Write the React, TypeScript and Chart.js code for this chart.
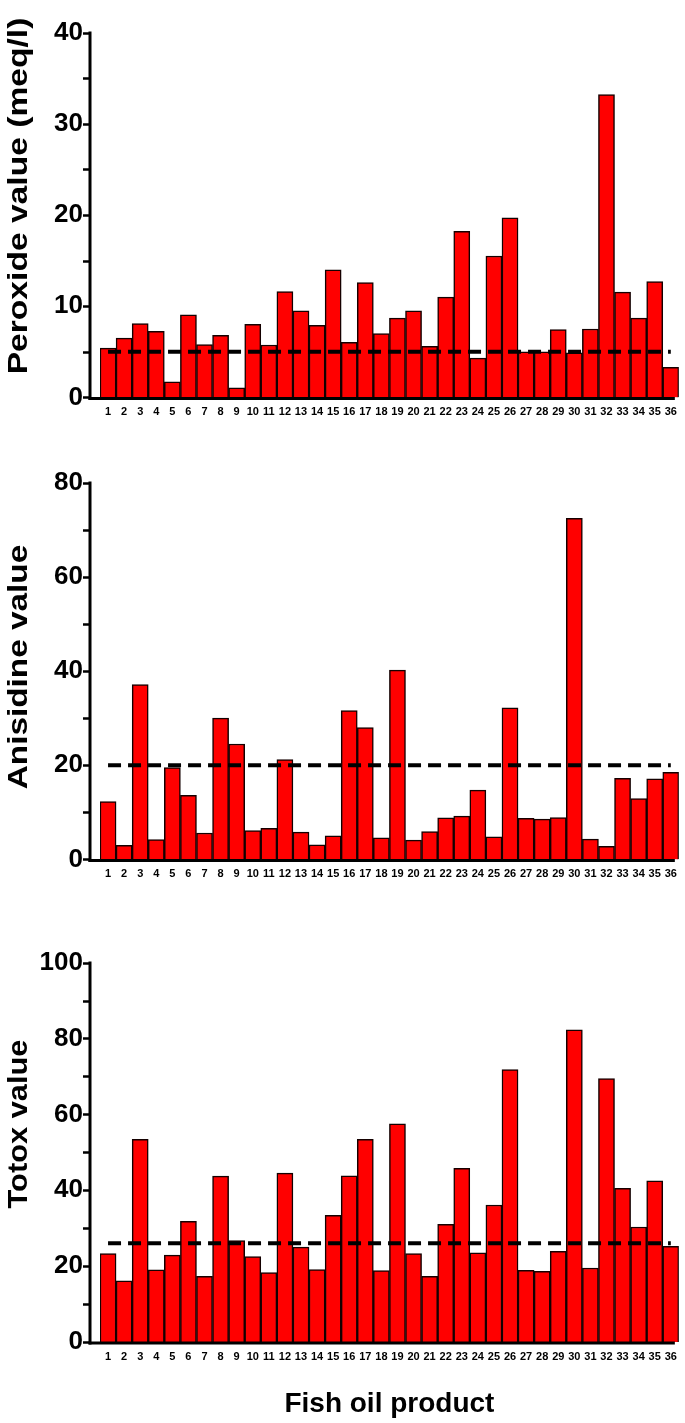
import React, { useEffect, useRef } from "react";
import { Chart, registerables } from "chart.js";

Chart.register(...registerables);

const products = [
  "1", "2", "3", "4", "5", "6", "7", "8", "9", "10", "11", "12",
  "13", "14", "15", "16", "17", "18", "19", "20", "21", "22", "23", "24",
  "25", "26", "27", "28", "29", "30", "31", "32", "33", "34", "35", "36",
];

const peroxideValues = [
  5.4, 6.5, 8.1, 7.25, 1.7, 9.05, 5.8, 6.8, 1.05, 8.0, 5.75, 11.6,
  9.5, 7.9, 14.0, 6.05, 12.6, 7.0, 8.7, 9.5, 5.6, 11.0, 18.2, 4.3,
  15.5, 19.7, 5.0, 5.0, 7.45, 4.9, 7.5, 33.2, 11.55, 8.7, 12.7, 3.3,
];

const anisidineValues = [
  12.3, 3.0, 37.1, 4.2, 19.5, 13.6, 5.6, 30.0, 24.5, 6.1, 6.6, 21.2,
  5.8, 3.1, 5.0, 31.6, 28.0, 4.6, 40.2, 4.1, 5.9, 8.8, 9.2, 14.7,
  4.8, 32.2, 8.7, 8.55, 8.9, 72.4, 4.3, 2.75, 17.2, 12.9, 17.1, 18.5,
];

const totoxValues = [
  23.3, 16.1, 53.4, 19.0, 22.9, 31.8, 17.3, 43.7, 26.7, 22.5, 18.3, 44.5,
  25.0, 19.1, 33.4, 43.8, 53.4, 18.8, 57.5, 23.3, 17.3, 31.0, 45.8, 23.5,
  36.1, 71.8, 18.9, 18.6, 23.9, 82.3, 19.5, 69.4, 40.5, 30.3, 42.5, 25.2,
];

const peroxideLimit = 5;
const anisidineLimit = 20;
const totoxLimit = 26;

const axisTitles = ["Peroxide value (meq/l)", "Anisidine value", "Totox value"];
const xAxisTitle = "Fish oil product";

const NARROW = "'Liberation Sans Narrow', 'Liberation Sans', Arial, sans-serif";
const SANS = "'Liberation Sans', Arial, sans-serif";

const axesPlugin = {
  id: "axesLines",
  afterDraw(chart: any, _args: any, opts: any) {
    const { ctx, chartArea } = chart;
    const y = chart.scales.y;
    const ax = chartArea.left - 10;
    ctx.save();
    ctx.strokeStyle = "#000";
    ctx.lineWidth = 3;
    ctx.beginPath();
    ctx.moveTo(ax, chartArea.top - 1);
    ctx.lineTo(ax, chartArea.bottom + 2.5);
    ctx.stroke();
    ctx.beginPath();
    ctx.moveTo(ax - 1.5, chartArea.bottom + 1);
    ctx.lineTo(chartArea.right - 4, chartArea.bottom + 1);
    ctx.stroke();
    ctx.lineWidth = 2.5;
    y.ticks.forEach((t: any) => {
      const py = Math.round(y.getPixelForValue(t.value)) + 0.5;
      ctx.beginPath();
      ctx.moveTo(ax - 7, py);
      ctx.lineTo(ax, py);
      ctx.stroke();
    });
    if (opts && opts.text) {
      ctx.translate(opts.x, opts.cy);
      ctx.rotate(-Math.PI / 2);
      ctx.scale(opts.stretch, 1);
      ctx.font = `bold ${opts.size}px ${SANS}`;
      ctx.fillStyle = "#000";
      ctx.textAlign = "center";
      ctx.textBaseline = "middle";
      ctx.fillText(opts.text, 0, 0);
    }
    ctx.restore();
  },
};

type PanelProps = {
  top: number;
  height: number;
  padTop: number;
  xHeight: number;
  values: number[];
  limit: number;
  max: number;
  step: number;
  major: number;
  title: string;
  titleSize: number;
  titleStretch: number;
  titleCy: number;
  showXTitle: boolean;
};

function Panel(p: PanelProps) {
  const ref = useRef<HTMLCanvasElement | null>(null);
  useEffect(() => {
    if (!ref.current) return;
    const chart = new Chart(ref.current, {
      type: "bar",
      data: {
        labels: products,
        datasets: [
          {
            type: "line",
            data: products.map(() => p.limit),
            borderColor: "#000",
            borderWidth: 4,
            borderDash: [13, 7],
            pointRadius: 0,
            fill: false,
            order: 0,
          } as any,
          {
            type: "bar",
            data: p.values,
            backgroundColor: "#ff0000",
            borderColor: "#140000",
            borderWidth: 1.5,
            barPercentage: 1,
            categoryPercentage: 1,
            order: 1,
          },
        ],
      },
      options: {
        responsive: false,
        animation: false,
        devicePixelRatio: 1,
        layout: { padding: { top: p.padTop, left: 0, right: 6, bottom: 0 } },
        plugins: {
          legend: { display: false },
          tooltip: { enabled: false },
          axesLines: {
            text: p.title,
            size: p.titleSize,
            stretch: p.titleStretch,
            x: 19,
            cy: p.titleCy,
          },
        } as any,
        scales: {
          x: {
            type: "category",
            offset: true,
            grid: { display: false, drawTicks: false },
            border: { display: false },
            ticks: {
              color: "#000",
              font: { family: NARROW, size: 11, weight: "bold" },
              maxRotation: 0,
              autoSkip: false,
              padding: 8,
            },
            title: {
              display: p.showXTitle,
              text: xAxisTitle,
              color: "#000",
              font: { family: SANS, size: 28, weight: "bold" },
              padding: { top: 0, bottom: 2 },
            },
            afterFit: (s: any) => {
              s.height = p.xHeight;
            },
          },
          y: {
            min: 0,
            max: p.max,
            grid: { display: false, drawTicks: false },
            border: { display: false },
            ticks: {
              stepSize: p.step,
              autoSkip: false,
              color: "#000",
              padding: 17,
              font: { family: NARROW, size: 26, weight: "bold" },
              callback: (v: any) => (Number(v) % p.major === 0 ? String(v) : ""),
            },
            title: { display: false },
            afterFit: (s: any) => {
              s.width = 100;
            },
          },
        },
      },
      plugins: [axesPlugin],
    });
    return () => chart.destroy();
  }, []);
  return (
    <canvas
      ref={ref}
      width={685}
      height={p.height}
      style={{ position: "absolute", left: 0, top: p.top, width: 685, height: p.height }}
    />
  );
}

export default function App() {
  return (
    <div
      style={{
        position: "absolute",
        left: 0,
        top: 0,
        width: 685,
        height: 1423,
        background: "#fff",
        overflow: "hidden",
      }}
    >
      <Panel top={0} height={430} padTop={14} xHeight={30} values={peroxideValues} limit={peroxideLimit}
        max={40} step={5} major={10} title={axisTitles[0]} titleSize={28} titleStretch={1.2} titleCy={196}
        showXTitle={false} />
      <Panel top={450} height={442} padTop={25} xHeight={30} values={anisidineValues} limit={anisidineLimit}
        max={80} step={10} major={20} title={axisTitles[1]} titleSize={28} titleStretch={1.19} titleCy={217}
        showXTitle={false} />
      <Panel top={930} height={493} padTop={24} xHeight={81} values={totoxValues} limit={totoxLimit}
        max={100} step={10} major={20} title={axisTitles[2]} titleSize={28} titleStretch={1.1} titleCy={194}
        showXTitle={true} />
    </div>
  );
}
